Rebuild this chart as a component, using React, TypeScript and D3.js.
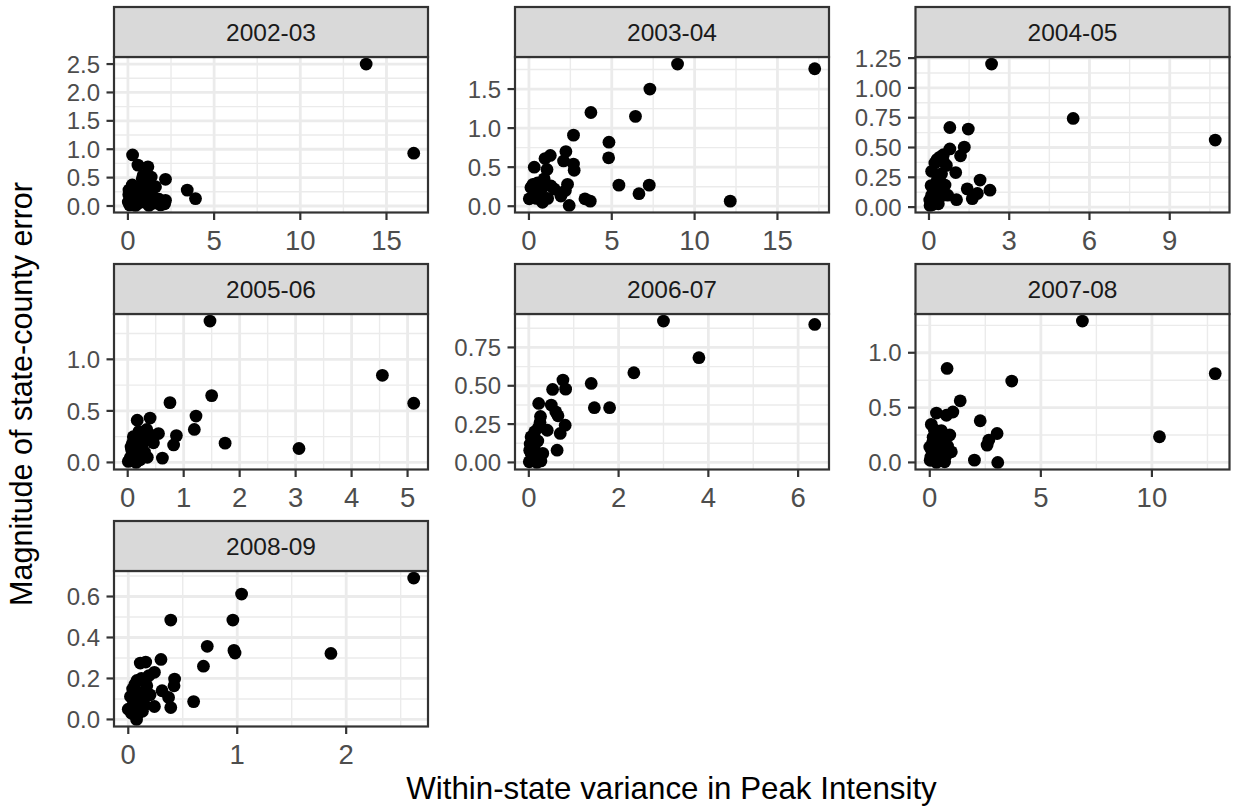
import * as d3 from "d3";

// facet seasons, in reading order
const seasons = ["2002-03", "2003-04", "2004-05", "2005-06", "2006-07", "2007-08", "2008-09"];

// [within-state variance, magnitude of error] per season
const pts0203: [number, number][] = [
  [13.82, 2.5], [16.58, 0.93], [0.27, 0.9], [0.58, 0.72], [1.16, 0.69], [0.89, 0.54], [1.35, 0.51],
  [2.18, 0.47], [3.44, 0.28], [3.92, 0.13], [2.18, 0.1], [2.13, 0.04], [0.06, 0.28], [0.25, 0.37],
  [0.73, 0.31], [1.16, 0.25], [1.6, 0.34], [1.47, 0.16], [0.93, 0.07], [1.22, 0.01], [0.02, 0.07],
  [0.44, 0.01], [0.15, 0.16], [0.54, 0.19], [1.02, 0.4], [0.83, 0.48], [0.1, 0.02], [0.3, 0.12],
  [0.6, 0.05], [0.8, 0.22], [1.0, 0.12], [1.3, 0.08], [1.8, 0.12], [0.4, 0.25], [0.2, 0.05],
  [0.7, 0.1], [1.5, 0.05], [0.05, 0.2], [1.9, 0.02], [0.35, 0.03],
];
const pts0304: [number, number][] = [
  [8.97, 1.82], [17.25, 1.76], [7.3, 1.5], [3.74, 1.2], [6.43, 1.15], [2.69, 0.91], [4.83, 0.82],
  [4.81, 0.62], [2.23, 0.7], [2.09, 0.58], [2.69, 0.54], [2.73, 0.46], [1.29, 0.65], [0.97, 0.61],
  [0.32, 0.5], [1.09, 0.47], [5.43, 0.27], [7.26, 0.27], [6.64, 0.16], [12.15, 0.065], [3.38, 0.095],
  [3.7, 0.065], [2.43, 0.01], [2.33, 0.28], [1.93, 0.13], [0.82, 0.05], [0.02, 0.095], [0.12, 0.24],
  [0.52, 0.3], [0.92, 0.35], [1.33, 0.26], [0.72, 0.15], [1.13, 0.1], [0.42, 0.18], [1.53, 0.22],
  [0.25, 0.28], [0.65, 0.22], [2.2, 0.2], [0.85, 0.25], [0.45, 0.1],
];
const pts0405: [number, number][] = [
  [2.34, 1.2], [5.39, 0.744], [10.7, 0.5625], [0.78, 0.668], [1.47, 0.655], [1.32, 0.503], [1.18, 0.43],
  [0.78, 0.488], [0.41, 0.42], [0.22, 0.37], [0.54, 0.44], [0.1, 0.3], [0.47, 0.28], [1.0, 0.29],
  [1.91, 0.227], [2.28, 0.142], [1.43, 0.153], [1.81, 0.114], [1.62, 0.071], [1.03, 0.0625],
  [0.04, 0.014], [0.35, 0.028], [0.1, 0.1], [0.22, 0.156], [0.6, 0.185], [0.41, 0.085], [0.03, 0.06],
  [0.3, 0.22], [0.15, 0.05], [0.5, 0.12], [0.65, 0.35], [0.3, 0.4], [0.18, 0.12], [0.7, 0.1],
  [0.08, 0.18], [0.45, 0.2], [0.25, 0.06], [0.55, 0.38], [0.12, 0.02], [0.38, 0.15],
];
const pts0506: [number, number][] = [
  [1.47, 1.371], [4.55, 0.845], [5.11, 0.574], [1.5, 0.648], [0.755, 0.58], [1.22, 0.45], [1.19, 0.32],
  [1.74, 0.187], [3.06, 0.135], [0.62, 0.042], [0.87, 0.26], [0.82, 0.17], [0.17, 0.41], [0.4, 0.43],
  [0.55, 0.28], [0.46, 0.19], [0.01, 0.01], [0.07, 0.12], [0.13, 0.22], [0.25, 0.28], [0.34, 0.32],
  [0.22, 0.026], [0.1, 0.06], [0.28, 0.19], [0.18, 0.15], [0.05, 0.05], [0.15, 0.0], [0.3, 0.1],
  [0.2, 0.3], [0.4, 0.24], [0.08, 0.18], [0.12, 0.08], [0.35, 0.05], [0.03, 0.02], [0.24, 0.12],
  [0.45, 0.26], [0.1, 0.25], [0.06, 0.15],
];
const pts0607: [number, number][] = [
  [3.0, 0.922], [6.37, 0.9], [3.79, 0.683], [2.34, 0.585], [1.39, 0.515], [1.46, 0.357], [1.8, 0.357],
  [0.76, 0.537], [0.82, 0.478], [0.53, 0.476], [0.22, 0.385], [0.5, 0.374], [0.65, 0.304], [0.81, 0.243],
  [0.7, 0.189], [0.63, 0.08], [0.41, 0.21], [0.26, 0.3], [0.22, 0.23], [0.05, 0.167], [0.13, 0.2],
  [0.09, 0.124], [0.31, 0.059], [0.01, 0.004], [0.16, 0.03], [0.27, 0.01], [0.05, 0.06], [0.12, 0.09],
  [0.2, 0.14], [0.03, 0.12], [0.18, 0.0], [0.08, 0.02], [0.25, 0.26], [0.1, 0.16], [0.6, 0.33],
  [0.02, 0.08], [0.15, 0.05],
];
const pts0708: [number, number][] = [
  [6.87, 1.289], [12.85, 0.81], [3.69, 0.742], [0.78, 0.857], [10.34, 0.234], [1.37, 0.562], [1.04, 0.46],
  [0.75, 0.43], [0.3, 0.45], [0.07, 0.347], [2.27, 0.38], [3.03, 0.264], [2.66, 0.204], [2.58, 0.158],
  [2.01, 0.021], [3.06, 0.0], [0.9, 0.25], [0.97, 0.097], [0.0, 0.14], [0.15, 0.23], [0.37, 0.17],
  [0.6, 0.11], [0.22, 0.036], [0.67, 0.006], [0.52, 0.29], [0.05, 0.05], [0.3, 0.0], [0.45, 0.08],
  [0.1, 0.1], [0.2, 0.3], [0.8, 0.15], [0.55, 0.2], [0.12, 0.18], [0.35, 0.25], [0.02, 0.02],
  [0.7, 0.05], [0.4, 0.04], [0.25, 0.13],
];
const pts0809: [number, number][] = [
  [2.62, 0.69], [1.04, 0.612], [0.39, 0.485], [0.96, 0.485], [0.725, 0.357], [0.97, 0.337], [0.98, 0.324],
  [1.86, 0.322], [0.69, 0.26], [0.6, 0.087], [0.3, 0.293], [0.16, 0.28], [0.11, 0.275], [0.24, 0.23],
  [0.425, 0.197], [0.42, 0.164], [0.31, 0.14], [0.37, 0.107], [0.39, 0.058], [0.24, 0.063], [0.08, 0.19],
  [0.04, 0.148], [0.02, 0.112], [0.0, 0.05], [0.076, 0.0], [0.13, 0.04], [0.17, 0.164], [0.19, 0.214],
  [0.05, 0.08], [0.1, 0.13], [0.14, 0.1], [0.03, 0.03], [0.09, 0.06], [0.2, 0.12], [0.06, 0.17],
  [0.12, 0.2], [0.04, 0.1], [0.15, 0.07], [0.08, 0.02],
];
const seasonPoints = [pts0203, pts0304, pts0405, pts0506, pts0607, pts0708, pts0809];

// axis breaks per facet (free scales)
const xBreaks = [
  [0, 5, 10, 15], [0, 5, 10, 15], [0, 3, 6, 9], [0, 1, 2, 3, 4, 5], [0, 2, 4, 6], [0, 5, 10], [0, 1, 2],
];
const yBreaks = [
  [0, 0.5, 1, 1.5, 2, 2.5], [0, 0.5, 1, 1.5], [0, 0.25, 0.5, 0.75, 1, 1.25], [0, 0.5, 1],
  [0, 0.25, 0.5, 0.75], [0, 0.5, 1], [0, 0.2, 0.4, 0.6],
];
const yDigits = [1, 1, 2, 1, 2, 1, 1];

const W = 1233;
const H = 811;
const colLeft = [114, 515, 915.5];
const rowTop = [7, 264, 521];
const panelW = 314;
const stripH = 50;
const plotH = 155.5;

const font = "'Liberation Sans', Arial, sans-serif";

function expand(ext: [number, number]): [number, number] {
  const pad = (ext[1] - ext[0]) * 0.05;
  return [ext[0] - pad, ext[1] + pad];
}

function minors(b: number[], dom: [number, number]) {
  const step = b[1] - b[0];
  const ext = [b[0] - step, ...b, b[b.length - 1] + step];
  const out: number[] = [];
  for (let i = 0; i < ext.length - 1; i++) {
    const m = (ext[i] + ext[i + 1]) / 2;
    if (m >= dom[0] && m <= dom[1]) out.push(m);
  }
  return out;
}

function Panel({ i }: { i: number }) {
  const left = colLeft[i % 3];
  const top = rowTop[Math.floor(i / 3)];
  const pTop = top + stripH;
  const pts = seasonPoints[i];
  const xd = expand(d3.extent(pts, (d) => d[0]) as [number, number]);
  const yd = expand(d3.extent(pts, (d) => d[1]) as [number, number]);
  const x = d3.scaleLinear().domain(xd).range([left, left + panelW]);
  const y = d3.scaleLinear().domain(yd).range([pTop + plotH, pTop]);
  const xb = xBreaks[i].filter((v) => v >= xd[0] && v <= xd[1]);
  const yb = yBreaks[i].filter((v) => v >= yd[0] && v <= yd[1]);
  const fmt = d3.format(`.${yDigits[i]}f`);
  const bottom = pTop + plotH;
  return (
    <g>
      <rect x={left} y={pTop} width={panelW} height={plotH} fill="#fff" />
      {minors(xBreaks[i], xd).map((v) => (
        <line key={"xm" + v} x1={x(v)} x2={x(v)} y1={pTop} y2={bottom} stroke="#ebebeb" strokeWidth={1.4} />
      ))}
      {minors(yBreaks[i], yd).map((v) => (
        <line key={"ym" + v} x1={left} x2={left + panelW} y1={y(v)} y2={y(v)} stroke="#ebebeb" strokeWidth={1.4} />
      ))}
      {xb.map((v) => (
        <line key={"xg" + v} x1={x(v)} x2={x(v)} y1={pTop} y2={bottom} stroke="#ebebeb" strokeWidth={2.8} />
      ))}
      {yb.map((v) => (
        <line key={"yg" + v} x1={left} x2={left + panelW} y1={y(v)} y2={y(v)} stroke="#ebebeb" strokeWidth={2.8} />
      ))}
      {pts.map((d, k) => (
        <circle key={k} cx={x(d[0])} cy={y(d[1])} r={6.4} fill="#000" />
      ))}
      <rect x={left} y={pTop} width={panelW} height={plotH} fill="none" stroke="#333" strokeWidth={2.2} />
      <rect x={left} y={top} width={panelW} height={stripH} fill="#d9d9d9" stroke="#333" strokeWidth={2.2} />
      <text x={left + panelW / 2} y={top + stripH / 2} dy="0.36em" textAnchor="middle" fontSize={24.5}
        fill="#1a1a1a" fontFamily={font}>{seasons[i]}</text>
      {xb.map((v) => (
        <g key={"xt" + v}>
          <line x1={x(v)} x2={x(v)} y1={bottom} y2={bottom + 7.5} stroke="#333" strokeWidth={2.2} />
          <text x={x(v)} y={bottom + 37} textAnchor="middle" fontSize={27.5} fill="#4d4d4d" fontFamily={font}>{v}</text>
        </g>
      ))}
      {yb.map((v) => (
        <g key={"yt" + v}>
          <line x1={left - 7.5} x2={left} y1={y(v)} y2={y(v)} stroke="#333" strokeWidth={2.2} />
          <text x={left - 14} y={y(v)} dy="0.36em" textAnchor="end" fontSize={24} fill="#4d4d4d" fontFamily={font}>{fmt(v)}</text>
        </g>
      ))}
    </g>
  );
}

export default function App() {
  return (
    <svg width={W} height={H} style={{ position: "absolute", left: 0, top: 0, background: "#fff" }}>
      <rect width={W} height={H} fill="#fff" />
      {seasons.map((s, i) => (
        <Panel key={s} i={i} />
      ))}
      <text x={671.5} y={799} textAnchor="middle" fontSize={31.3} fill="#000" fontFamily={font}>
        Within-state variance in Peak Intensity
      </text>
      <text transform="translate(32,394) rotate(-90)" textAnchor="middle" fontSize={30.5} fill="#000" fontFamily={font}>
        Magnitude of state-county error
      </text>
    </svg>
  );
}
